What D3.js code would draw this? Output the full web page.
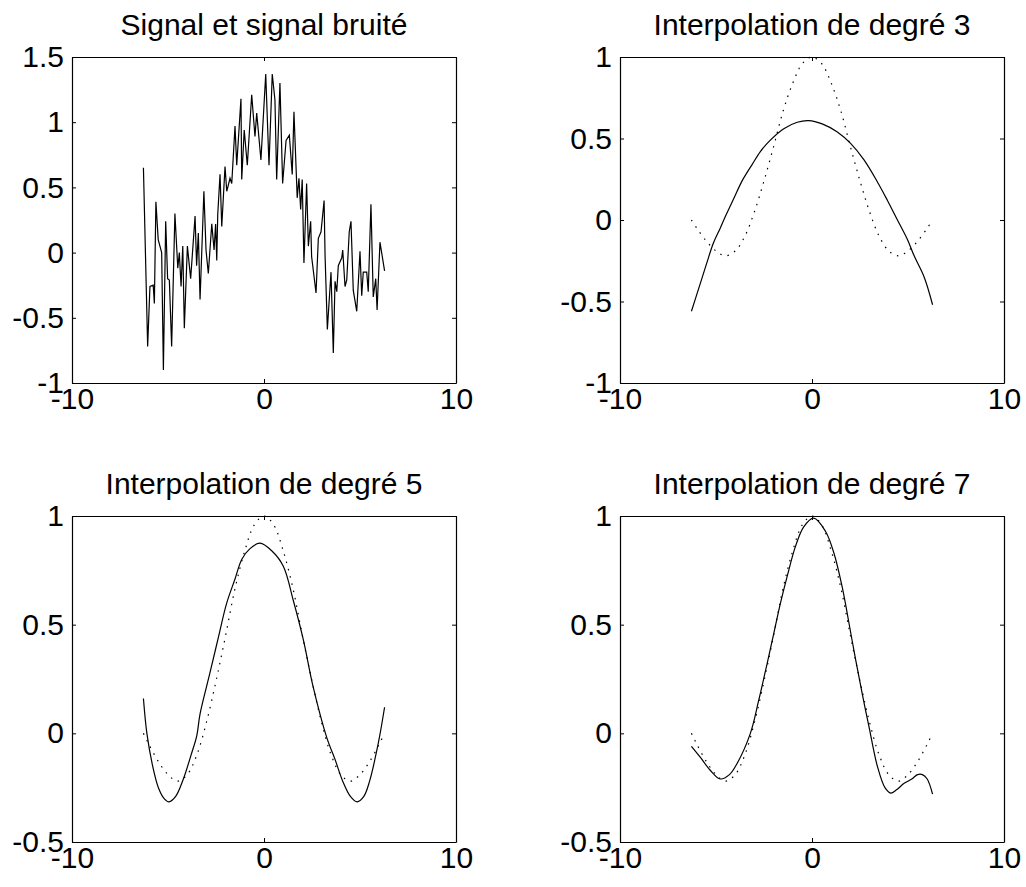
<!doctype html>
<html lang="fr">
	<head>
		<meta charset="utf-8" />
		<title>Signal bruité et interpolations polynomiales</title>
		<script type="text/javascript" src="https://d3js.org/d3.v7.min.js"></script>
		<style>
			body { margin: 0; background: #fff; }
			text { font-family: "Liberation Sans", Arial, sans-serif; }
		</style>
	</head>
	<body>
		<script type="text/javascript">
			// --- data ---
			var titles = ["Signal et signal bruité", "Interpolation de degré 3", "Interpolation de degré 5", "Interpolation de degré 7"];
			var xTicks = [-10, 0, 10];
			var yTicksSignal = [-1, -0.5, 0, 0.5, 1, 1.5];
			var yTicksFit3 = [-1, -0.5, 0, 0.5, 1];
			var yTicksFit57 = [-0.5, 0, 0.5, 1];

			// noisy signal (top left)
			var noisyX = [-6.28, -6.06, -5.94, -5.77, -5.71, -5.63, -5.51, -5.33, -5.24, -5.12, -5.02, -4.93, -4.81, -4.64, -4.49, -4.41, -4.32, -4.23, -4.15, -3.99,
				-3.82, -3.59, -3.51, -3.42, -3.33, -3.13, -3.02, -2.90, -2.72, -2.60, -2.52, -2.46, -2.41, -2.29, -2.20, -2.03, -1.94, -1.77, -1.68, -1.51,
				-1.42, -1.20, -1.16, -1.03, -0.87, -0.64, -0.47, -0.38, -0.30, -0.16, 0.09, 0.26, 0.43, 0.57, 0.66, 0.83, 0.97, 1.15, 1.32, 1.47,
				1.56, 1.73, 1.82, 1.91, 1.99, 2.08, 2.22, 2.31, 2.43, 2.48, 2.71, 2.83, 2.97, 3.13, 3.18, 3.30, 3.49, 3.61, 3.70, 3.79,
				3.87, 4.05, 4.10, 4.22, 4.31, 4.44, 4.53, 4.65, 4.83, 5.00, 5.09, 5.17, 5.35, 5.43, 5.57, 5.69, 5.82, 5.89, 6.04, 6.28];
			var noisyY = [0.65, -0.72, -0.26, -0.25, -0.39, 0.39, 0.10, 0.00, -0.90, 0.24, -0.20, -0.21, -0.72, 0.30, -0.12, 0.00, -0.26, 0.05, -0.58, 0.05,
				-0.20, 0.28, -0.10, 0.15, -0.36, 0.47, 0.02, -0.16, 0.22, 0.02, 0.22, -0.06, 0.29, 0.60, 0.20, 0.66, 0.47, 0.57, 0.53, 0.97,
				0.67, 1.18, 0.56, 0.94, 0.67, 1.21, 0.89, 1.07, 0.94, 0.71, 1.37, 0.67, 1.37, 1.17, 0.56, 1.30, 0.53, 0.86, 0.90, 0.60,
				1.08, 0.42, 0.57, 0.33, 0.56, -0.08, 0.53, 0.05, 0.24, -0.03, -0.31, 0.11, 0.16, 0.40, -0.02, -0.59, -0.15, -0.77, -0.22, -0.30,
				-0.10, -0.04, 0.02, -0.26, -0.21, 0.16, 0.24, -0.29, -0.45, 0.01, -0.33, -0.15, -0.15, -0.30, 0.37, -0.34, -0.20, -0.44, 0.08, -0.14];

			// clean signal (dotted)
			var sigX = [-6.28, -6, -5.5, -5, -4.5, -4, -3.5, -3, -2.5, -2, -1.5, -1, -0.5, 0, 0.5, 1, 1.5, 2, 2.5, 3, 3.5, 4, 4.5, 5, 5.5, 6, 6.28];
			var sigY = [0, -0.05, -0.13, -0.19, -0.22, -0.19, -0.10, 0.05, 0.24, 0.45, 0.67, 0.84, 0.96, 1, 0.96, 0.84, 0.67, 0.45, 0.24, 0.05, -0.10, -0.19, -0.22, -0.19, -0.13, -0.05, 0];

			// fitted polynomials (solid)
			var fit3X = [-6.28, -5.82, -5.47, -5.13, -4.78, -4.52, -4.08, -3.64, -3.12, -2.69, -2.17, -1.47, -0.77, -0.17, 0.53, 1.32, 2.01, 2.70, 3.40, 3.93, 4.45, 4.97, 5.32, 5.84, 6.28];
			var fit3Y = [-0.56, -0.39, -0.26, -0.14, -0.05, 0.02, 0.13, 0.24, 0.34, 0.42, 0.49, 0.56, 0.60, 0.61, 0.59, 0.54, 0.47, 0.37, 0.235, 0.12, 0.0, -0.12, -0.22, -0.35, -0.52];

			var fit5X = [-6.28, -6.1, -5.8, -5.5, -5.2, -4.95, -4.6, -4.2, -3.8, -3.5, -3.33, -2.81, -2.38, -1.94, -1.51, -1.16, -0.73, -0.21, 0.40, 1.0, 1.53, 2.05, 2.57, 3.27, 3.7, 4.1, 4.5, 4.85, 5.2, 5.5, 5.8, 6.05, 6.28];
			var fit5Y = [0.16, 0.0, -0.15, -0.25, -0.30, -0.315, -0.29, -0.21, -0.10, -0.01, 0.09, 0.28, 0.44, 0.60, 0.71, 0.80, 0.85, 0.875, 0.84, 0.77, 0.61, 0.43, 0.21, -0.02, -0.12, -0.22, -0.29, -0.315, -0.29, -0.22, -0.11, 0.0, 0.12];

			var fit7X = [-6.28, -5.82, -5.30, -4.78, -4.3, -3.91, -3.21, -2.78, -2.34, -1.99, -1.64, -1.30, -0.86, -0.43, 0.09, 0.70, 1.14, 1.58, 1.92, 2.27, 2.62, 2.97, 3.40, 3.8, 4.1, 4.4, 4.8, 5.2, 5.5, 5.75, 6.0, 6.28];
			var fit7Y = [-0.06, -0.11, -0.17, -0.21, -0.19, -0.14, 0.0, 0.15, 0.32, 0.46, 0.60, 0.72, 0.86, 0.95, 0.99, 0.93, 0.83, 0.67, 0.51, 0.34, 0.18, 0.03, -0.15, -0.25, -0.275, -0.26, -0.23, -0.21, -0.19, -0.19, -0.21, -0.28];

			var w = 1026;
			var h = 887;
			var tickLen = 4;
			var labelSize = "30px";
			var titleSize = "30px";

			var svg = d3.select("body")
				.append("svg")
				.attr("width", w)
				.attr("height", h)
				.style("display", "block");

			svg.append("rect").attr("width", w).attr("height", h).attr("fill", "#fff");

			function zip(xs, ys) {
				return xs.map(function(x, i) { return [x, ys[i]]; });
			}

			// one subplot, MATLAB style (box on, ticks pointing inwards)
			function subplot(left, top, title, yDomain, yTicks, series) {
				var pw = 384, ph = 326;
				var x = d3.scaleLinear().domain([-10, 10]).range([left, left + pw]);
				var y = d3.scaleLinear().domain(yDomain).range([top + ph, top]);
				var g = svg.append("g");
				var fmt = function(d) { return String(d); };

				// bottom and left axes carry the labels
				g.append("g")
					.attr("transform", "translate(0," + (top + ph) + ")")
					.call(d3.axisBottom(x).tickValues(xTicks).tickFormat(fmt).tickSizeInner(-tickLen).tickSizeOuter(0).tickPadding(5))
					.call(styleAxis);
				g.append("g")
					.attr("transform", "translate(" + left + ",0)")
					.call(d3.axisLeft(y).tickValues(yTicks).tickFormat(fmt).tickSizeInner(-tickLen).tickSizeOuter(0).tickPadding(8))
					.call(styleAxis);
				// top and right: ticks only
				g.append("g")
					.attr("transform", "translate(0," + top + ")")
					.call(d3.axisTop(x).tickValues(xTicks).tickFormat("").tickSizeInner(-tickLen).tickSizeOuter(0))
					.call(styleAxis);
				g.append("g")
					.attr("transform", "translate(" + (left + pw) + ",0)")
					.call(d3.axisRight(y).tickValues(yTicks).tickFormat("").tickSizeInner(-tickLen).tickSizeOuter(0))
					.call(styleAxis);

				series.forEach(function(s) {
					var line = d3.line()
						.x(function(d) { return x(d[0]); })
						.y(function(d) { return y(d[1]); })
						.curve(s.smooth ? d3.curveCatmullRom : d3.curveLinear);
					g.append("path")
						.datum(s.data)
						.attr("d", line)
						.attr("fill", "none")
						.attr("stroke", "#000")
						.attr("stroke-width", 1.2)
						.attr("stroke-dasharray", s.dotted ? "1.5,6" : null);
				});

				g.append("text")
					.attr("x", left + pw / 2)
					.attr("y", top - 22)
					.attr("text-anchor", "middle")
					.attr("font-size", titleSize)
					.attr("fill", "#000")
					.text(title);
			}

			function styleAxis(sel) {
				sel.select(".domain").attr("stroke", "#000").attr("stroke-width", 1.2);
				sel.selectAll(".tick line").attr("stroke", "#000");
				sel.selectAll(".tick text")
					.attr("fill", "#000")
					.attr("font-size", labelSize)
					.attr("font-family", "'Liberation Sans', Arial, sans-serif");
			}

			subplot(72, 57, titles[0], [-1, 1.5], yTicksSignal, [
				{ data: zip(noisyX, noisyY) }
			]);
			subplot(620, 57, titles[1], [-1, 1], yTicksFit3, [
				{ data: zip(sigX, sigY), dotted: true, smooth: true },
				{ data: zip(fit3X, fit3Y), smooth: true }
			]);
			subplot(72, 516, titles[2], [-0.5, 1], yTicksFit57, [
				{ data: zip(sigX, sigY), dotted: true, smooth: true },
				{ data: zip(fit5X, fit5Y), smooth: true }
			]);
			subplot(620, 516, titles[3], [-0.5, 1], yTicksFit57, [
				{ data: zip(sigX, sigY), dotted: true, smooth: true },
				{ data: zip(fit7X, fit7Y), smooth: true }
			]);
		</script>
	</body>
</html>
